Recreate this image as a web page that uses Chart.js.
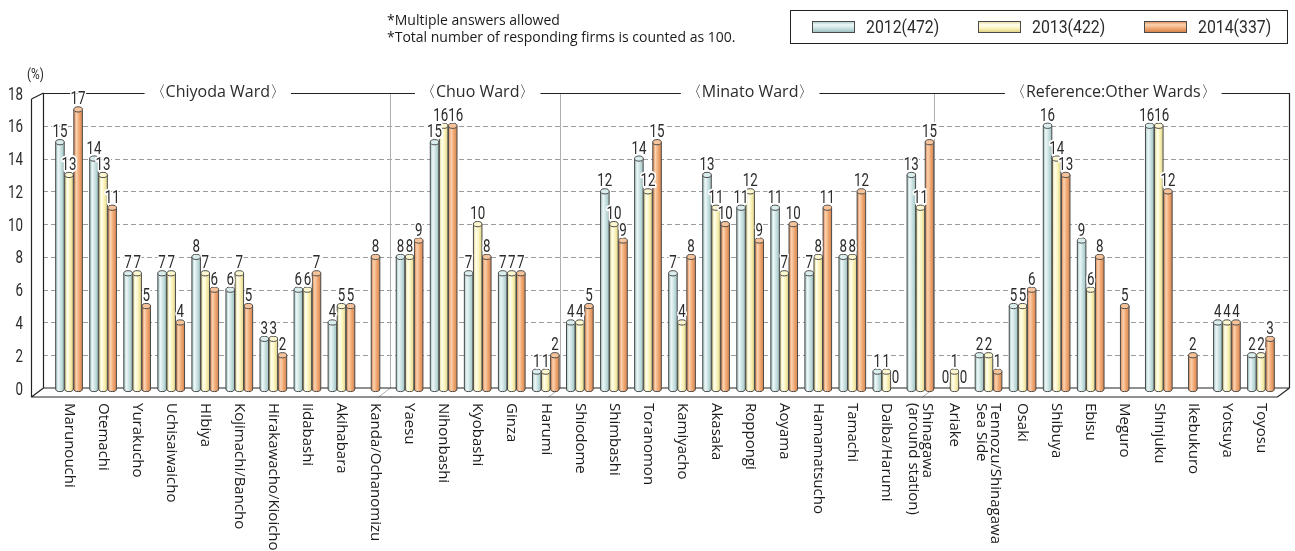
<!DOCTYPE html>
<html>
<head>
<meta charset="utf-8">
<script src="https://cdn.jsdelivr.net/npm/chart.js@4.4.1/dist/chart.umd.min.js"></script>
<style>
  html, body { margin: 0; padding: 0; background: #fff; }
  #wrap { position: relative; width: 1295px; height: 551px; }
</style>
</head>
<body>
<div id="wrap"><canvas id="chart" width="1295" height="551"></canvas></div>
<script>
const categories = [
  'Marunouchi', 'Otemachi', 'Yurakucho', 'Uchisaiwaicho', 'HIbiya', 'Kojimachi/Bancho',
  'Hirakawacho/Kioicho', 'Iidabashi', 'Akihabara', 'Kanda/Ochanomizu',
  'Yaesu', 'Nihonbashi', 'Kyobashi', 'Ginza', 'Harumi',
  'Shiodome', 'Shimbashi', 'Toranomon', 'Kamiyacho', 'Akasaka', 'Roppongi', 'Aoyama',
  'Hamamatsucho', 'Tamachi', 'Daiba/Harumi', ['Shinagawa', '(around station)'],
  'Ariake', ['Tennozu/Shinagawa', 'Sea Side'], 'Osaki', 'Shibuya', 'Ebisu', 'Meguro',
  'Shinjuku', 'Ikebukuro', 'Yotsuya', 'Toyosu'
];

const values2012 = [15, 14, 7, 7, 8, 6, 3, 6, 4, null, 8, 15, 7, 7, 1, 4, 12, 14, 7, 13, 11, 11, 7, 8, 1, 13, 0, 2, 5, 16, 9, null, 16, null, 4, 2];
const values2013 = [13, 13, 7, 7, 7, 7, 3, 6, 5, null, 8, 16, 10, 7, 1, 4, 10, 12, 4, 11, 12, 7, 8, 8, 1, 11, 1, 2, 5, 14, 6, null, 16, null, 4, 2];
const values2014 = [17, 11, 5, 4, 6, 5, 2, 7, 5, 8, 9, 16, 8, 7, 2, 5, 9, 15, 8, 10, 9, 10, 11, 12, 0, 15, 0, 1, 6, 13, 8, 5, 12, 2, 4, 3];

const seriesNames = ['2012(472)', '2013(422)', '2014(337)'];
const yTicks = [0, 2, 4, 6, 8, 10, 12, 14, 16, 18];

// ward blocks: first and last category index of each
const wards = [
  { name: '〈Chiyoda Ward〉', first: 0, last: 9 },
  { name: '〈Chuo Ward〉', first: 10, last: 14 },
  { name: '〈Minato Ward〉', first: 15, last: 25 },
  { name: '〈Reference:Other Wards〉', first: 26, last: 35 }
];

const notes = ['*Multiple answers allowed', '*Total number of responding firms is counted as 100.'];

// cylinder shading per series: edge, highlight, body, cap
const palettes = [
  { edge: '#9fc2c2', light: '#eef8f8', body: '#cce3e3', cap: '#dbeeee' },
  { edge: '#e0d488', light: '#fffff0', body: '#fcf4bd', cap: '#fdf7cf' },
  { edge: '#d6844e', light: '#fbd3b1', body: '#f2ab76', cap: '#f6c39a' }
];

const OUTLINE = '#4a4a4a';
const TEXT = '#2b2b2b';
const NUM_FONT = '18px Roboto';
const NUM_SQUEEZE = 0.74;

// 3D frame geometry
const WALL_X = 43, FRONT_DX = -12, FLOOR_DY = 9, TOP_DY = 6, RIGHT_X = 1289;

function condensedText(ctx, text, x, y, align, halo, squeeze) {
  ctx.save();
  ctx.translate(x, y);
  ctx.scale(squeeze || NUM_SQUEEZE, 1);
  ctx.font = NUM_FONT;
  ctx.textAlign = align;
  ctx.textBaseline = 'alphabetic';
  if (halo) {
    ctx.strokeStyle = '#fff';
    ctx.lineWidth = 4;
    ctx.lineJoin = 'round';
    ctx.strokeText(text, 0, 0);
  }
  ctx.fillStyle = TEXT;
  ctx.fillText(text, 0, 0);
  ctx.restore();
}

function numWidth(ctx, text) {
  ctx.save();
  ctx.font = NUM_FONT;
  const w = ctx.measureText(text).width * NUM_SQUEEZE;
  ctx.restore();
  return w;
}

function drawCylinder(ctx, cx, top, base, w, pal) {
  const left = cx - w / 2, right = cx + w / 2, rx = w / 2, ry = 2.6;
  const g = ctx.createLinearGradient(left, 0, right, 0);
  g.addColorStop(0, pal.edge);
  g.addColorStop(0.3, pal.light);
  g.addColorStop(0.6, pal.body);
  g.addColorStop(1, pal.edge);
  ctx.beginPath();
  ctx.moveTo(left, top);
  ctx.lineTo(left, base);
  ctx.ellipse(cx, base, rx, ry, 0, Math.PI, 0, true);
  ctx.lineTo(right, top);
  ctx.closePath();
  ctx.fillStyle = g;
  ctx.fill();
  ctx.strokeStyle = OUTLINE;
  ctx.lineWidth = 1;
  ctx.stroke();
  ctx.beginPath();
  ctx.ellipse(cx, top, rx, ry, 0, 0, Math.PI * 2);
  ctx.fillStyle = pal.cap;
  ctx.fill();
  ctx.stroke();
}

const framePlugin = {
  id: 'frame',
  beforeDatasetsDraw(chart) {
    const { ctx, scales: { x, y } } = chart;
    const top = y.getPixelForValue(18), floor = y.getPixelForValue(0);
    ctx.save();

    // dashed grid
    ctx.strokeStyle = '#9c9c9c';
    ctx.lineWidth = 1;
    ctx.setLineDash([5, 3]);
    yTicks.filter(t => t > 0 && t < 18).forEach(t => {
      const py = Math.round(y.getPixelForValue(t)) + 0.5;
      ctx.beginPath();
      ctx.moveTo(WALL_X, py);
      ctx.lineTo(RIGHT_X, py);
      ctx.stroke();
    });
    ctx.setLineDash([]);

    // ward separators
    ctx.strokeStyle = '#b0b0b0';
    wards.slice(1).forEach(wd => {
      const sx = Math.round((x.getPixelForValue(wd.first - 1) + x.getPixelForValue(wd.first)) / 2) - 2.5;
      ctx.beginPath();
      ctx.moveTo(sx, top);
      ctx.lineTo(sx, floor);
      ctx.lineTo(sx + FRONT_DX, floor + FLOOR_DY);
      ctx.stroke();
    });

    // walls and floor
    ctx.strokeStyle = '#222';
    ctx.lineWidth = 1.2;
    ctx.beginPath();
    ctx.moveTo(WALL_X + 0.5, top);
    ctx.lineTo(WALL_X + 0.5, floor);
    ctx.lineTo(RIGHT_X + 0.5, floor);
    ctx.moveTo(WALL_X + FRONT_DX + 0.5, top + TOP_DY);
    ctx.lineTo(WALL_X + 0.5, top);
    ctx.moveTo(WALL_X + FRONT_DX + 0.5, top + TOP_DY);
    ctx.lineTo(WALL_X + FRONT_DX + 0.5, floor + FLOOR_DY);
    ctx.lineTo(RIGHT_X + FRONT_DX + 0.5, floor + FLOOR_DY);
    ctx.lineTo(RIGHT_X + 0.5, floor);
    ctx.moveTo(WALL_X + FRONT_DX + 0.5, floor + FLOOR_DY);
    ctx.lineTo(WALL_X + 0.5, floor);
    ctx.stroke();

    // top rail with ward titles
    ctx.beginPath();
    ctx.moveTo(WALL_X, Math.round(top) + 0.5);
    ctx.lineTo(RIGHT_X + 0.5, Math.round(top) + 0.5);
    ctx.lineTo(RIGHT_X + 0.5, floor);
    ctx.stroke();

    ctx.font = '16px "Open Sans"';
    ctx.textAlign = 'center';
    ctx.textBaseline = 'middle';
    wards.forEach((wd, i) => {
      const l = i === 0 ? WALL_X : (x.getPixelForValue(wd.first - 1) + x.getPixelForValue(wd.first)) / 2;
      const r = i === wards.length - 1 ? RIGHT_X : (x.getPixelForValue(wd.last) + x.getPixelForValue(wd.last + 1)) / 2;
      const cx = (l + r) / 2;
      const tw = ctx.measureText(wd.name).width;
      ctx.fillStyle = '#fff';
      ctx.fillRect(cx - tw / 2 - 5, top - 10, tw + 10, 20);
      ctx.fillStyle = TEXT;
      ctx.fillText(wd.name, cx, top - 1);
    });
    ctx.restore();
  },
  afterDatasetsDraw(chart) {
    const { ctx, scales: { x, y } } = chart;
    ctx.save();
    chart.data.datasets.forEach((ds, di) => {
      chart.getDatasetMeta(di).data.forEach((bar, i) => {
        const v = ds.data[i];
        if (!v) return;
        const p = bar.getProps(['x', 'y', 'base', 'width'], true);
        drawCylinder(ctx, p.x, p.y, p.base + 1, p.width, palettes[di]);
      });
    });

    // value labels above each cylinder; equal neighbours are pushed apart
    categories.forEach((c, i) => {
      const items = [];
      chart.data.datasets.forEach((ds, di) => {
        const v = ds.data[i];
        if (v === null || v === undefined) return;
        const p = chart.getDatasetMeta(di).data[i].getProps(['x', 'y'], true);
        const txt = String(v);
        items.push({ txt, x: p.x, y: p.y - 5, w: numWidth(ctx, txt) });
      });
      for (let k = 1; k < items.length; k++) {
        const a = items[k - 1], b = items[k];
        if (Math.abs(a.y - b.y) > 12) continue;
        const overlap = (a.x + a.w / 2) - (b.x - b.w / 2);
        if (overlap > 0) {
          a.x -= overlap / 2;
          b.x += overlap / 2;
        }
      }
      items.forEach(it => condensedText(ctx, it.txt, it.x, it.y, 'center', true));
    });

    // y ticks and unit
    yTicks.forEach(t => condensedText(ctx, String(t), 23, y.getPixelForValue(t) + 6.5, 'right', false));
    ctx.save();
    ctx.translate(27, 79);
    ctx.scale(0.85, 1);
    ctx.font = '14px Roboto';
    ctx.fillStyle = TEXT;
    ctx.fillText('(%)', 0, 0);
    ctx.restore();

    // category names, rotated to read downward
    ctx.font = '15px "Open Sans"';
    ctx.fillStyle = '#1a1a1a';
    ctx.textAlign = 'left';
    ctx.textBaseline = 'middle';
    categories.forEach((c, i) => {
      const lines = Array.isArray(c) ? c : [c];
      ctx.save();
      ctx.translate(x.getPixelForValue(i), 403);
      ctx.rotate(Math.PI / 2);
      lines.forEach((ln, k) => ctx.fillText(ln, 0, (k - (lines.length - 1) / 2) * 14));
      ctx.restore();
    });

    // notes
    ctx.font = '14px "Open Sans"';
    ctx.textBaseline = 'alphabetic';
    notes.forEach((n, k) => ctx.fillText(n, 387, 25 + k * 17));

    // legend
    ctx.strokeStyle = '#222';
    ctx.lineWidth = 1;
    ctx.strokeRect(790.5, 10.5, 497, 33);
    seriesNames.forEach((name, k) => {
      const sx = 812 + k * 166, sy = 21, sw = 42, sh = 11;
      const pal = palettes[k];
      const g = ctx.createLinearGradient(0, sy, 0, sy + sh);
      g.addColorStop(0, pal.edge);
      g.addColorStop(0.35, pal.light);
      g.addColorStop(0.65, pal.body);
      g.addColorStop(1, pal.edge);
      ctx.fillStyle = g;
      ctx.fillRect(sx, sy, sw, sh);
      ctx.strokeStyle = OUTLINE;
      ctx.strokeRect(sx + 0.5, sy + 0.5, sw, sh);
      condensedText(ctx, name, sx + sw + 12, 33, 'left', false, 0.88);
    });
    ctx.restore();
  }
};

new Chart(document.getElementById('chart'), {
  type: 'bar',
  data: {
    labels: categories,
    datasets: [values2012, values2013, values2014].map((d, k) => ({
      label: seriesNames[k],
      data: d,
      backgroundColor: 'rgba(0,0,0,0)',
      borderWidth: 0
    }))
  },
  options: {
    responsive: false,
    animation: false,
    devicePixelRatio: 1,
    skipNull: true,
    categoryPercentage: 0.8,
    barPercentage: 0.94,
    maxBarThickness: 8.6,
    layout: { padding: { left: 52, right: 17, top: 93, bottom: 163 } },
    plugins: { legend: { display: false }, tooltip: { enabled: false } },
    scales: {
      x: { display: false },
      y: { display: false, min: 0, max: 18 }
    }
  },
  plugins: [framePlugin]
});
</script>
</body>
</html>
